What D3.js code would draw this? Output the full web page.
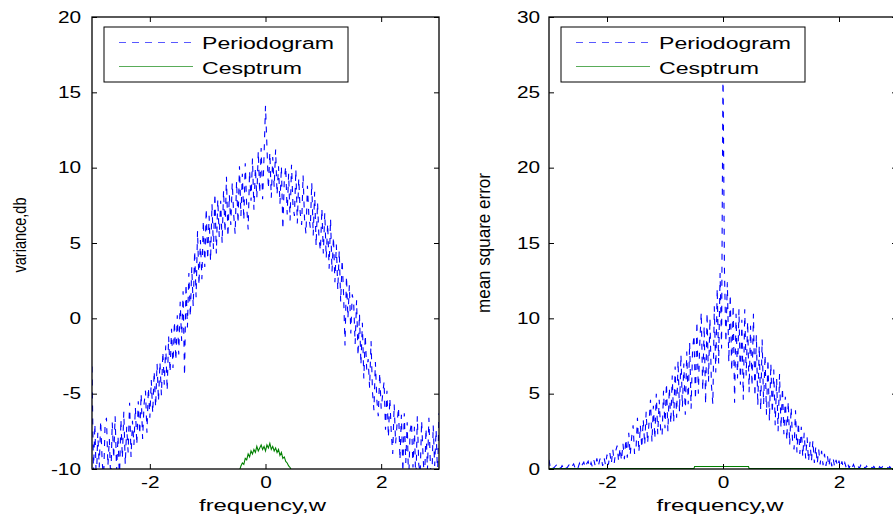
<!DOCTYPE html>
<html lang="en">
<head>
<meta charset="UTF-8">
<title>Periodogram vs Cesptrum</title>
<script src="https://d3js.org/d3.v7.min.js"></script>
<style>
  body { margin: 0; background: #fff; overflow: hidden; }
  svg { display: block; font-family: "Liberation Sans", Arial, sans-serif; }
</style>
</head>
<body>
<svg width="893" height="519"></svg>
<script>
// frequency grid -3..3, 241 samples (step 0.025)
const freqDomain = [-3, 3];
const xTicks = [-2, 0, 2];
const yTicksDb = [-10, -5, 0, 5, 10, 15, 20];
const yTicksMse = [0, 5, 10, 15, 20, 25, 30];
const legendLabels = ["Periodogram", "Cesptrum"];

// left panel: variance in dB
const periodogramDb = [
  -3.2, -10.2, -7.0, -11.0, -7.6, -9.9, -6.8, -9.4, -10.8, -7.2,
  -6.6, -9.8, -8.0, -10.9, -6.9, -9.3, -6.5, -10.1, -7.8, -10.7,
  -6.7, -9.3, -6.2, -9.7, -7.2, -8.9, -5.6, -9.2, -6.8, -8.4,
  -5.9, -8.4, -5.5, -7.7, -5.0, -8.0, -5.7, -4.8, -7.6, -4.6,
  -6.6, -4.1, -6.3, -3.5, -5.9, -3.0, -5.5, -2.9, -5.1, -2.2,
  -4.4, -1.8, -4.8, -1.2, -3.6, -0.7, -3.3, -0.2, -2.8, 0.2,
  -2.4, 1.1, -1.5, 1.8, -3.8, 2.3, -0.6, 3.0, 0.1, 3.4,
  0.8, 4.5, 1.4, 5.8, 2.2, 5.2, 2.6, 6.5, 3.4, 7.3,
  3.9, 6.8, 3.8, 7.6, 4.6, 8.3, 4.3, 7.9, 5.4, 7.8,
  5.0, 8.5, 5.7, 9.4, 5.4, 8.2, 6.2, 9.0, 6.9, 5.6,
  9.1, 6.3, 10.1, 6.8, 9.6, 6.5, 10.3, 7.4, 5.9, 9.8,
  7.8, 10.6, 7.2, 10.0, 8.0, 11.1, 8.3, 11.3, 7.9, 10.8,
  14.1,
  11.4, 8.6, 11.0, 8.0, 10.7, 8.7, 11.2, 8.2, 10.1, 7.6,
  10.1, 5.9, 9.2, 10.1, 6.9, 9.6, 6.5, 10.2, 7.5, 6.8,
  9.9, 6.3, 9.3, 7.0, 6.2, 9.5, 6.6, 5.6, 8.8, 6.8,
  6.0, 9.0, 5.5, 8.4, 4.8, 7.7, 5.3, 4.5, 7.3, 4.3,
  7.0, 4.0, 6.3, 3.3, 6.6, 3.1, 5.4, 2.4, 4.9, 1.9,
  4.5, 1.1, 3.9, 1.6, -1.8, 2.8, 0.0, 2.2, -1.0, 1.6,
  1.0, -1.7, 1.2, -2.5, 0.3, -3.1, -0.3, -4.0, -1.1, -3.4,
  -2.7, -4.6, -1.5, -4.9, -6.1, -2.9, -5.4, -6.5, -3.6, -6.0,
  -5.1, -4.2, -7.4, -4.8, -7.9, -5.3, -7.6, -9.0, -5.7, -8.3,
  -7.0, -5.9, -9.4, -6.4, -10.2, -6.3, -9.6, -6.9, -11.0, -7.5,
  -6.9, -9.9, -7.2, -11.2, -6.5, -9.7, -10.3, -6.8, -9.2, -10.9,
  -7.3, -10.1, -6.6, -9.6, -11.1, -7.1, -9.8, -7.4, -10.4, -6.3
];

// cesptrum (dB), visible only from -0.45 to 0.45
const cesptrumDbRange = [-0.45, 0.45];
const cesptrumDb = [
  -10.1, -9.8, -9.6, -9.7, -9.3, -9.4, -9.0, -9.2, -8.8, -9.0,
  -8.7, -8.9, -8.5, -8.8, -8.6, -8.4, -8.7, -8.5, -8.8, -8.4,
  -8.6, -8.3, -8.7, -8.5, -8.8, -8.6, -8.9, -8.7, -9.1, -8.9,
  -9.3, -9.2, -9.5, -9.6, -9.8, -9.9, -10.1
];

// right panel: mean square error
const periodogramMse = [
  0.6, 0.05, 0.2, 0.03, 0.15, 0.25, 0.04, 0.18, 0.02, 0.22,
  0.06, 0.24, 0.03, 0.16, 0.3, 0.05, 0.2, 0.34, 0.06, 0.26,
  0.08, 0.38, 0.06, 0.3, 0.45, 0.08, 0.35, 0.52, 0.1, 0.42,
  0.12, 0.58, 0.15, 0.7, 0.18, 0.62, 0.8, 0.2, 0.75, 0.25,
  0.95, 0.28, 1.05, 0.35, 1.3, 0.4, 1.2, 1.55, 0.5, 1.4,
  0.55, 1.7, 0.65, 2.0, 0.75, 2.4, 0.9, 2.1, 2.9, 1.0,
  1.3, 3.4, 1.1, 2.9, 1.4, 3.3, 1.6, 3.8, 1.7, 3.1,
  4.6, 1.8, 4.2, 2.0, 5.0, 2.3, 4.6, 2.6, 2.2, 5.2,
  2.7, 5.7, 2.5, 5.4, 3.0, 6.2, 3.1, 6.8, 3.4, 7.2,
  3.8, 7.6, 4.1, 7.0, 3.6, 7.8, 4.3, 8.4, 4.0, 7.9,
  8.9, 4.6, 9.8, 5.0, 8.4, 10.4, 5.2, 9.5, 4.3, 10.4,
  5.8, 10.0, 5.6, 4.3, 10.8, 6.4, 12.0, 7.0, 13.0, 8.0,
  27.0,
  13.2, 8.4, 12.4, 7.1, 11.6, 6.5, 10.9, 4.4, 10.3, 6.0,
  10.6, 5.6, 9.9, 4.6, 10.6, 6.2, 9.8, 5.1, 9.5, 5.5,
  10.3, 4.8, 8.9, 4.2, 8.2, 3.9, 8.6, 4.3, 7.6, 3.6,
  7.3, 3.2, 7.0, 3.7, 6.6, 2.9, 6.0, 2.5, 6.3, 2.7,
  5.4, 2.3, 4.8, 1.9, 4.5, 1.6, 4.1, 1.8, 1.3, 3.9,
  1.1, 3.1, 1.0, 2.8, 0.8, 2.4, 0.7, 2.1, 0.5, 1.8,
  0.5, 1.9, 0.4, 1.5, 0.35, 1.3, 0.3, 1.2, 0.25, 1.0,
  0.2, 0.9, 0.15, 0.8, 0.18, 0.7, 0.12, 0.6, 0.15, 0.55,
  0.1, 0.5, 0.08, 0.42, 0.07, 0.38, 0.06, 0.33, 0.08, 0.3,
  0.05, 0.28, 0.2, 0.04, 0.25, 0.06, 0.22, 0.03, 0.2, 0.05,
  0.04, 0.2, 0.03, 0.17, 0.05, 0.18, 0.02, 0.15, 0.04, 0.16,
  0.03, 0.14, 0.18, 0.02, 0.15, 0.04, 0.16, 0.03, 0.13, 0.1
];

const cesptrumMseFreq = [-3, -0.5, -0.49, 0.44, 0.45, 3];
const cesptrumMse = [0.03, 0.03, 0.17, 0.17, 0.03, 0.03];

const svg = d3.select("svg");
const plotTop = 17, plotBottom = 469;
const blue = "#0000ff", green = "#008000";

function stretchText(sel, k) {
  sel.each(function() {
    const w = this.getComputedTextLength();
    d3.select(this).attr("textLength", w * k).attr("lengthAdjust", "spacingAndGlyphs");
  });
}

function drawPanel(p) {
  const x = d3.scaleLinear().domain(freqDomain).range([p.left, p.right]);
  const y = d3.scaleLinear().domain(p.yDomain).range([plotBottom, plotTop]);
  const g = svg.append("g");

  g.append("clipPath").attr("id", p.id + "-clip")
    .append("rect")
    .attr("x", p.left).attr("y", plotTop)
    .attr("width", p.right - p.left).attr("height", plotBottom - plotTop);

  const plot = g.append("g").attr("clip-path", `url(#${p.id}-clip)`);

  // periodogram on the 241-point grid
  const idx = d3.scaleLinear().domain([0, p.periodogram.length - 1]).range(freqDomain);
  const line = d3.line()
    .x((d, i) => x(idx(i)))
    .y(d => y(d));

  plot.append("path")
    .datum(p.periodogram)
    .attr("fill", "none")
    .attr("stroke", blue)
    .attr("stroke-width", 1.1)
    .attr("stroke-dasharray", "6,7")
    .attr("d", line);

  const cepLine = d3.line()
    .x((d, i) => x(p.cepFreq(i)))
    .y(d => y(d));

  plot.append("path")
    .datum(p.cesptrum)
    .attr("fill", "none")
    .attr("stroke", green)
    .attr("stroke-width", 1.1)
    .attr("d", cepLine);

  // axes, ticks pointing inward on all four sides
  const fmt = d => String(d);   // plain hyphen minus like the source
  g.append("g")
    .attr("transform", `translate(0,${plotBottom})`)
    .call(d3.axisBottom(x).tickValues(xTicks).tickSizeInner(-5).tickSizeOuter(0).tickPadding(8)
      .tickFormat(fmt));
  g.append("g")
    .attr("transform", `translate(${p.left},0)`)
    .call(d3.axisLeft(y).tickValues(p.yTicks).tickSizeInner(-5).tickSizeOuter(0).tickPadding(p.pad)
      .tickFormat(fmt));
  g.append("g")
    .attr("transform", `translate(0,${plotTop})`)
    .call(d3.axisTop(x).tickValues(xTicks).tickSizeInner(-5).tickSizeOuter(0).tickFormat(""));
  g.append("g")
    .attr("transform", `translate(${p.right},0)`)
    .call(d3.axisRight(y).tickValues(p.yTicks).tickSizeInner(-5).tickSizeOuter(0).tickFormat(""));

  g.selectAll(".domain").remove();
  g.selectAll(".tick line").attr("stroke", "#000").attr("stroke-width", 1);
  g.selectAll(".tick text")
    .attr("font-size", 16)
    .attr("font-family", "Liberation Sans, Arial, sans-serif")
    .attr("fill", "#000")
    .call(stretchText, 1.3);

  g.append("rect")
    .attr("x", p.left).attr("y", plotTop)
    .attr("width", p.right - p.left).attr("height", plotBottom - plotTop)
    .attr("fill", "none").attr("stroke", "#000").attr("stroke-width", 1.3);

  // x label
  g.append("text")
    .attr("x", (p.left + p.right) / 2 - 3)
    .attr("y", 511)
    .attr("text-anchor", "middle")
    .attr("font-size", 16)
    .attr("textLength", 127)
    .attr("lengthAdjust", "spacingAndGlyphs")
    .text("frequency,w");

  // y label, rotated and widened like the source image
  g.append("text")
    .attr("transform", `translate(${p.yLabelX},${p.yLabelY}) scale(1.4,1) rotate(-90)`)
    .attr("text-anchor", "middle")
    .attr("font-size", 13)
    .attr("textLength", p.yLabelLen)
    .attr("lengthAdjust", "spacingAndGlyphs")
    .text(p.yLabel);

  // legend
  const lg = g.append("g").attr("transform", `translate(${p.left + 12},27)`);
  lg.append("rect")
    .attr("width", 244).attr("height", 55)
    .attr("fill", "#fff").attr("stroke", "#000").attr("stroke-width", 1);
  const rows = [
    {label: legendLabels[0], color: blue, dash: "7,6", y: 15.5, base: 21.5, len: 132},
    {label: legendLabels[1], color: green, dash: null, y: 39.5, base: 46.5, len: 100}
  ];
  rows.forEach(r => {
    lg.append("line")
      .attr("x1", 15).attr("x2", 89)
      .attr("y1", r.y).attr("y2", r.y)
      .attr("stroke", r.color)
      .attr("stroke-opacity", 0.65)
      .attr("stroke-width", 1.2)
      .attr("stroke-dasharray", r.dash);
    lg.append("text")
      .attr("x", 98).attr("y", r.base)
      .attr("font-size", 16)
      .attr("textLength", r.len)
      .attr("lengthAdjust", "spacingAndGlyphs")
      .text(r.label);
  });
}

const cepDbIdx = d3.scaleLinear().domain([0, cesptrumDb.length - 1]).range(cesptrumDbRange);

drawPanel({
  id: "left", left: 92, right: 439, yDomain: [-10, 20], yTicks: yTicksDb, pad: 11,
  periodogram: periodogramDb, cesptrum: cesptrumDb, cepFreq: i => cepDbIdx(i),
  yLabel: "variance,db", yLabelX: 26, yLabelY: 235, yLabelLen: 75
});

drawPanel({
  id: "right", left: 549, right: 897, yDomain: [0, 30], yTicks: yTicksMse, pad: 9,
  periodogram: periodogramMse, cesptrum: cesptrumMse, cepFreq: i => cesptrumMseFreq[i],
  yLabel: "mean square error", yLabelX: 490, yLabelY: 243, yLabelLen: 140
});
</script>
</body>
</html>
